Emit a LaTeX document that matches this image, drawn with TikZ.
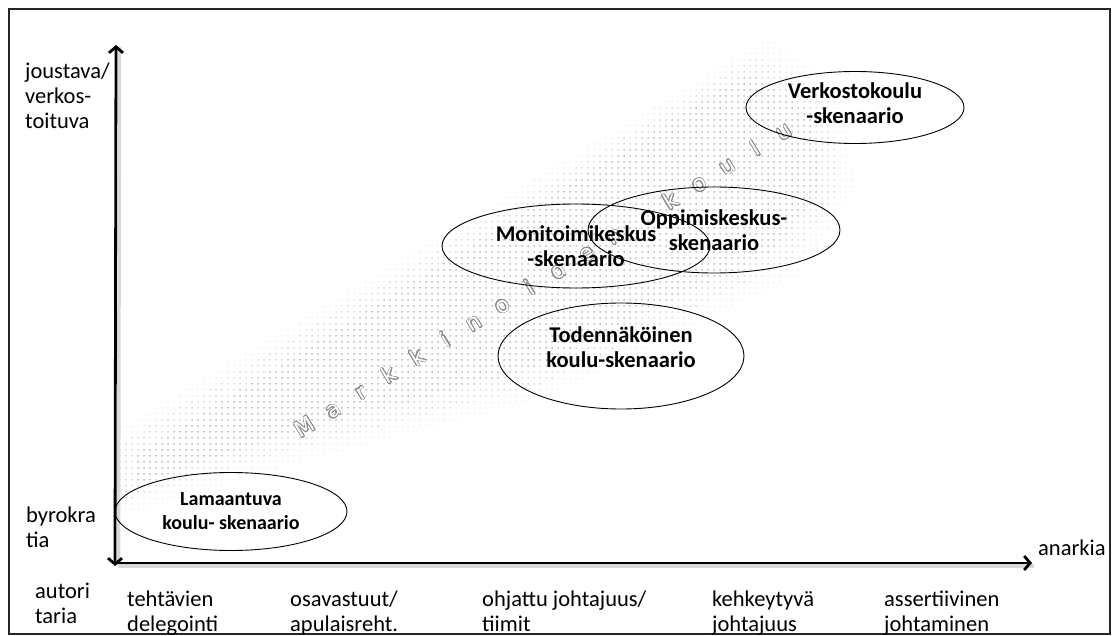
\documentclass[tikz,border=0pt]{standalone}
\usepackage{fontspec}
\setmainfont{Carlito}
\newfontfamily\wmfont{DejaVu Sans}
\usepackage{contour}
\contourlength{0.6pt}
\contournumber{32}
\usetikzlibrary{arrows.meta,shapes.geometric,patterns}
\pgfdeclarepatternformonly{sparsedots}{\pgfqpoint{-1pt}{-1pt}}{\pgfqpoint{1pt}{1pt}}{\pgfqpoint{6pt}{6pt}}{\pgfpathcircle{\pgfqpoint{0pt}{0pt}}{0.75pt}\pgfusepath{fill}}
\newcommand\wml[1]{\makebox[33.1pt]{#1}}
\newcommand\lift[1]{\rule[-#1]{0pt}{0pt}}
\begin{document}
\begin{tikzpicture}[x=1pt,y=-1pt,
  axlab/.style={anchor=north west, inner sep=0pt, align=left, font=\fontsize{22.5}{25}\selectfont},
  scen/.style={ellipse, draw, line width=0.9pt, inner sep=0pt, align=center, font=\fontsize{22.5}{25}\selectfont\bfseries},
  axisline/.style={line width=2.8pt, -{Straight Barb[length=6pt,width=14pt]}},
  axisboth/.style={line width=2.8pt, {Straight Barb[length=6pt,width=14pt]}-{Straight Barb[length=6pt,width=14pt]}},
  shadowline/.style={line width=3.5pt, black!15},
  frame/.style={line width=1.6pt, black!85}
]
\useasboundingbox (0,0) rectangle (1118,636);
\fill[white] (0,0) rectangle (1118,636);
\draw[frame] (9,9) rectangle (1110,634);

% dotted band (stepped fade)
\fill[pattern=sparsedots, pattern color=gray!22] (118,430) -- (765,40) -- (840,85) -- (855,190) -- (800,275) -- (545,398) -- (295,463) -- (118,518) -- cycle;
\fill[pattern=sparsedots, pattern color=gray!42] (118,445) -- (758,55) -- (828,98) -- (840,190) -- (790,262) -- (540,385) -- (290,450) -- (118,503) -- cycle;
\fill[pattern=sparsedots, pattern color=gray!62] (135,455) -- (748,72) -- (812,112) -- (822,190) -- (775,250) -- (530,370) -- (282,436) -- (135,485) -- cycle;

% watermark text
\node[rotate=31.7, inner sep=0pt] (wm) at (544,279) {\wmfont\fontsize{22}{22}\selectfont\color{white}\contour{black!45}{\wml{M}\wml{a}\wml{r}\wml{k}\wml{k}\wml{i}\wml{n}\wml{o}\wml{i}\wml{d}\wml{e}\wml{n}\wml{ }\wml{k}\wml{o}\wml{u}\wml{l}\wml{u}}};

% axes
\coordinate (O) at (115,566);
\coordinate (Ytop) at (116,45);
\coordinate (Xo) at (116,563);
\coordinate (Xend) at (1032,563);
\coordinate (sO) at (118.5,566);
\coordinate (sYtop) at (119.5,47);
\coordinate (sXo) at (118,566);
\coordinate (sXend) at (1034,566);
\draw[shadowline] (sO) -- (sYtop);
\draw[shadowline] (sXo) -- (sXend);
\draw[axisboth] (O) -- (Ytop);
\draw[axisline] (Xo) -- (Xend);

% scenario ellipses
\node[scen, minimum width=232pt, minimum height=78pt, font=\fontsize{20}{24}\selectfont\bfseries] (lam) at (231,511.5) {Lamaantuva\\koulu- skenaario};
\node[scen, minimum width=268pt, minimum height=84pt] (mon) at (576,246) {Monitoimikeskus\\-skenaario};
\node[scen, minimum width=252pt, minimum height=86pt] (opp) at (714,230) {Oppimiskeskus-\\skenaario};
\node[scen, minimum width=246pt, minimum height=106pt] (tod) at (621,356) {Todennäköinen\\koulu-skenaario\lift{18pt}};
\node[scen, minimum width=218pt, minimum height=72pt] (ver) at (855,107.5) {Verkostokoulu\\-skenaario\lift{8pt}};

% axis labels
\node[axlab] (jv) at (25,63) {joustava/\\verkos-\\toituva};
\node[axlab] (by) at (26,507) {byrokra\\tia};
\node[axlab] (au) at (35,583) {autori\\taria};
\node[axlab] (an) at (1038,540) {anarkia};
\node[axlab] (te) at (127,591) {tehtävien\\delegointi};
\node[axlab] (os) at (290,591) {osavastuut/\\apulaisreht.};
\node[axlab] (oh) at (482,591) {ohjattu johtajuus/\\tiimit};
\node[axlab] (ke) at (712,591) {kehkeytyvä\\johtajuus};
\node[axlab] (as) at (884,591) {assertiivinen\\johtaminen};
\end{tikzpicture}
\end{document}
